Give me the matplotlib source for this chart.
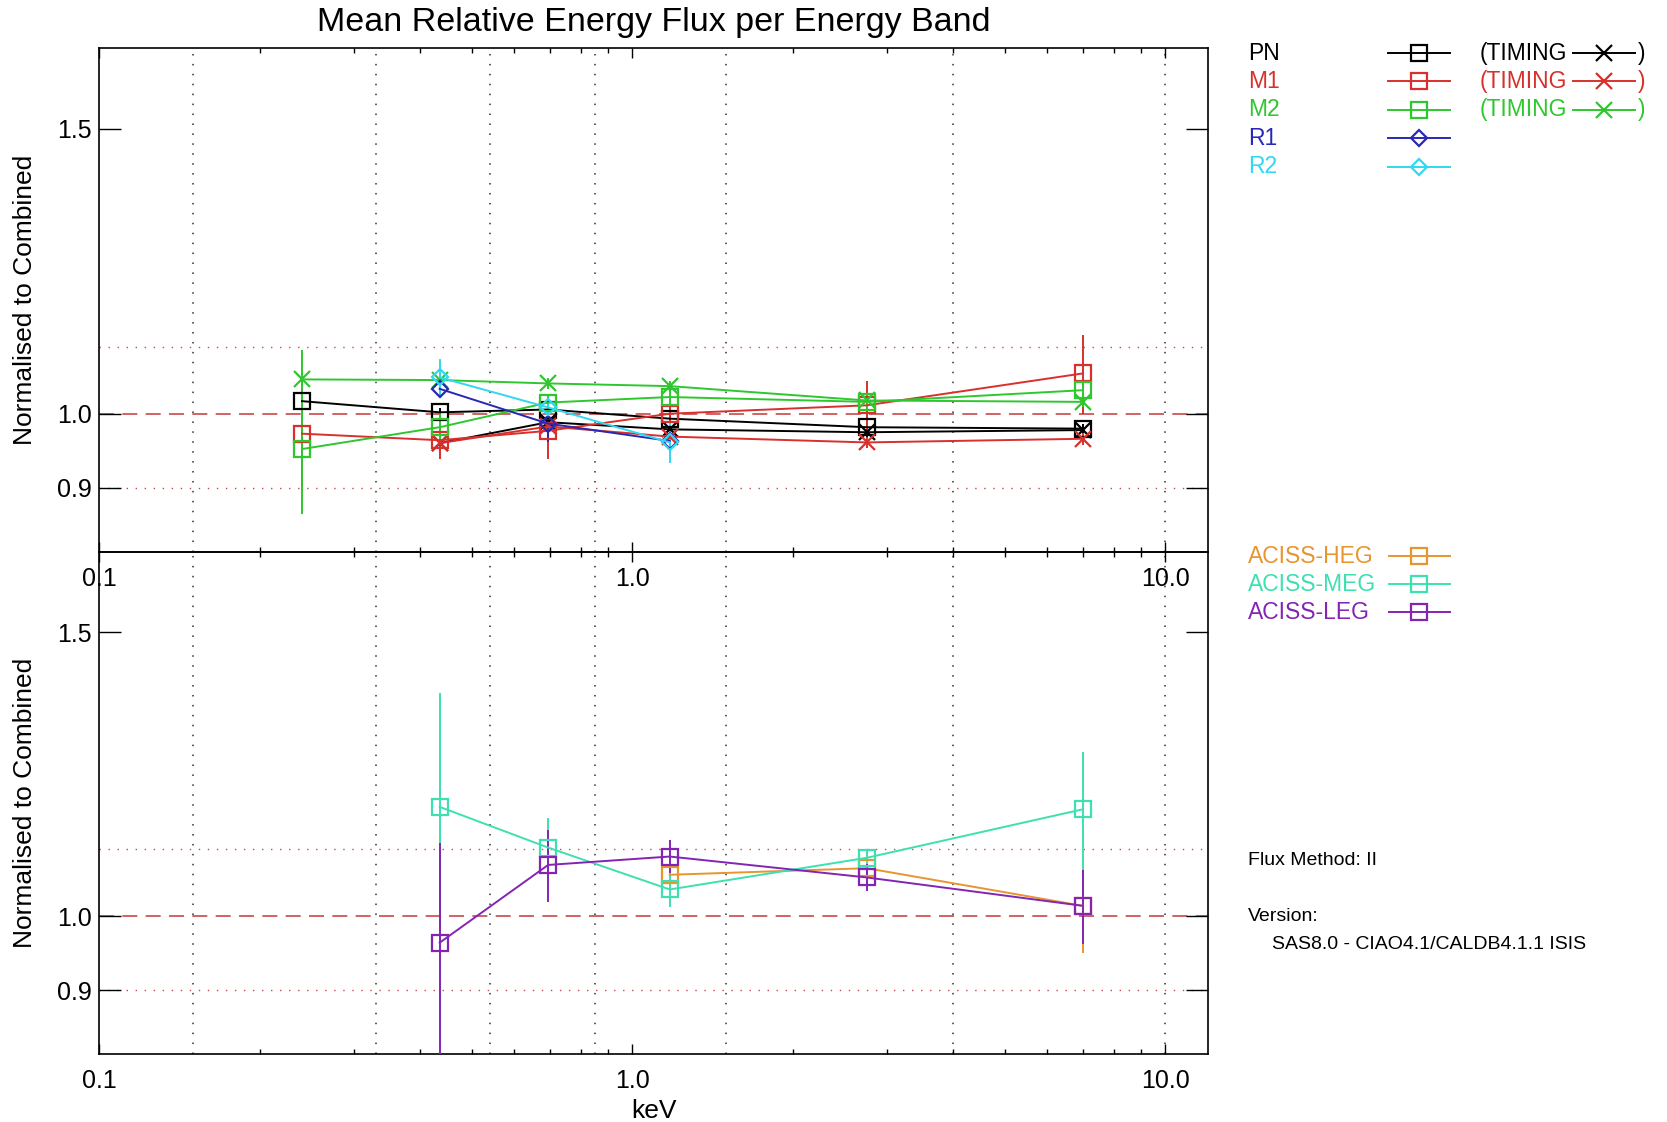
import matplotlib
matplotlib.use('Agg')
import matplotlib.pyplot as plt
from matplotlib.ticker import FixedLocator, NullFormatter, NullLocator, LogLocator

plt.rcParams['font.family'] = ['Liberation Sans', 'DejaVu Sans']

# %% data
band_edges = [0.15, 0.33, 0.54, 0.85, 1.5, 4.0, 10.0]
e_all = [0.24, 0.435, 0.695, 1.175, 2.75, 7.0]
e_timing = [0.435, 0.695, 1.175, 2.75, 7.0]
e_rgs = [0.435, 0.695, 1.175]
e_heg = [1.175, 2.75, 7.0]

pn = [1.018, 1.002, 1.006, 0.993, 0.981, 0.979]
pn_err = [0.008, 0.006, 0.006, 0.006, 0.006, 0.006]
pn_t = [0.959, 0.988, 0.978, 0.974, 0.977]
pn_t_err = [0.006, 0.006, 0.006, 0.006, 0.006]
m1 = [0.972, 0.963, 0.976, 1.000, 1.012, 1.059]
m1_err = [0.075, 0.020, 0.038, 0.010, 0.036, 0.059]
m1_t = [0.959, 0.982, 0.968, 0.960, 0.965]
m1_t_err = [0.021, 0.008, 0.008, 0.008, 0.008]
m2 = [0.951, 0.981, 1.016, 1.024, 1.017, 1.034]
m2_err = [0.084, 0.020, 0.010, 0.012, 0.012, 0.012]
m2_t = [1.050, 1.049, 1.044, 1.040, 1.019, 1.017]
m2_t_err = [0.045, 0.008, 0.008, 0.008, 0.008, 0.008]
r1 = [1.036, 0.986, 0.962]
r1_err = [0.010, 0.026, 0.010]
r2 = [1.053, 1.009, 0.960]
r2_err = [0.028, 0.010, 0.028]

heg = [1.061, 1.071, 1.015]
heg_err = [0.010, 0.010, 0.066]
meg = [1.169, 1.103, 1.039, 1.087, 1.165]
meg_err = [0.206, 0.047, 0.025, 0.012, 0.100]
leg = [0.963, 1.076, 1.089, 1.057, 1.015]
leg_err = [0.147, 0.055, 0.026, 0.020, 0.054]

# %% colours
c_pn = 'black'
c_m1 = '#d8302c'
c_m2 = '#2ec82e'
c_r1 = '#2828b4'
c_r2 = '#30d8f0'
c_heg = '#e8952e'
c_meg = '#3ee0b0'
c_leg = '#8424b4'
c_ref = '#c84848'

W, H = 1667, 1122
fig = plt.figure(figsize=(W / 100, H / 100), dpi=100)
ax_top = fig.add_axes([99.3 / W, 1 - 552 / H, 1108.4 / W, 504 / H])
ax_bot = fig.add_axes([99.3 / W, 1 - 1054 / H, 1108.4 / W, 502 / H])
ax_top.set_zorder(3)
ax_top.patch.set_alpha(0)


def setup(ax):
    ax.set_xscale('log')
    ax.set_yscale('log')
    ax.set_xlim(0.1, 12.0)
    ax.set_ylim(0.8215, 1.682)
    ax.xaxis.set_major_locator(FixedLocator([0.1, 1.0, 10.0]))
    ax.set_xticklabels(['0.1', '1.0', '10.0'])
    ax.xaxis.set_minor_locator(LogLocator(base=10, subs=range(2, 10)))
    ax.xaxis.set_minor_formatter(NullFormatter())
    ax.yaxis.set_major_locator(FixedLocator([0.9, 1.0, 1.5]))
    ax.set_yticklabels(['0.9', '1.0', '1.5'])
    ax.yaxis.set_minor_locator(NullLocator())
    ax.tick_params(axis='x', which='major', direction='in', length=7.2, width=1.0,
                   top=True, labelsize=18, pad=11)
    ax.tick_params(axis='x', which='minor', direction='in', length=3.6, width=1.0, top=True)
    ax.tick_params(axis='y', which='major', direction='in', length=15.8, width=1.0,
                   right=True, labelsize=18, pad=5.5)
    for sp in ax.spines.values():
        sp.set_linewidth(1.2)
    for e in band_edges:
        ax.axvline(e, color='#303030', lw=1.1, ls=(0, (1, 5.5)), zorder=1)
    ax.axhline(1.0, color=c_ref, lw=1.2, ls=(0, (9, 5)), zorder=1)
    ax.axhline(0.9, color=c_ref, lw=1.0, ls=(0, (1, 5.5)), zorder=1)
    ax.axhline(1.1, color=c_ref, lw=1.0, ls=(0, (1, 5.5)), zorder=1)
    ax.set_ylabel('Normalised to Combined', fontsize=19, labelpad=14)


setup(ax_top)
setup(ax_bot)
ax_bot.set_xlabel('keV', fontsize=19, labelpad=4)


def series(ax, x, y, err, color, marker, ms=11):
    ax.errorbar(x, y, yerr=err, color=color, ecolor=color, lw=1.4, elinewidth=1.4,
                marker=marker, ms=ms, mfc='none', mec=color, mew=1.6, capsize=0, zorder=4)


# %% top panel
series(ax_top, e_all, pn, pn_err, c_pn, 's')
series(ax_top, e_timing, pn_t, pn_t_err, c_pn, 'x')
series(ax_top, e_all, m1, m1_err, c_m1, 's')
series(ax_top, e_timing, m1_t, m1_t_err, c_m1, 'x')
series(ax_top, e_all, m2, m2_err, c_m2, 's')
series(ax_top, e_all, m2_t, m2_t_err, c_m2, 'x')
series(ax_top, e_rgs, r1, r1_err, c_r1, 'D', ms=8)
series(ax_top, e_rgs, r2, r2_err, c_r2, 'D', ms=8)

# %% bottom panel
series(ax_bot, e_heg, heg, heg_err, c_heg, 's')
series(ax_bot, e_all[1:], meg, meg_err, c_meg, 's')
series(ax_bot, e_all[1:], leg, leg_err, c_leg, 's')

fig.text(653.5 / W, 1 - 22 / H, 'Mean Relative Energy Flux per Energy Band',
         ha='center', va='center', fontsize=24.5)

# %% legend / annotation area, pixel coordinates
lg = fig.add_axes([0, 0, 1, 1])
lg.set_xlim(0, W)
lg.set_ylim(H, 0)
lg.axis('off')
lg.patch.set_alpha(0)

top_rows = [('PN', c_pn, 's', True), ('M1', c_m1, 's', True), ('M2', c_m2, 's', True),
            ('R1', c_r1, 'D', False), ('R2', c_r2, 'D', False)]
for i, (name, col, mk, timing) in enumerate(top_rows):
    yy = 53 + 28.4 * i
    lg.text(1248, yy, name, color=col, fontsize=16.5, va='center', ha='left')
    lg.plot([1388, 1450], [yy, yy], color=col, lw=1.4)
    lg.plot([1419], [yy], color=col, marker=mk, ms=11 if mk == 's' else 8,
            mfc='none', mec=col, mew=1.6)
    if timing:
        lg.text(1480, yy, '(TIMING', color=col, fontsize=16.5, va='center', ha='left')
        lg.plot([1573, 1635], [yy, yy], color=col, lw=1.4)
        lg.plot([1604], [yy], color=col, marker='x', ms=11, mew=1.6)
        lg.text(1638, yy, ')', color=col, fontsize=16.5, va='center', ha='left')

bot_rows = [('ACISS-HEG', c_heg), ('ACISS-MEG', c_meg), ('ACISS-LEG', c_leg)]
for i, (name, col) in enumerate(bot_rows):
    yy = 556 + 28.0 * i
    lg.text(1248, yy, name, color=col, fontsize=16.5, va='center', ha='left')
    lg.plot([1389, 1450], [yy, yy], color=col, lw=1.4)
    lg.plot([1419], [yy], color=col, marker='s', ms=11, mfc='none', mec=col, mew=1.6)

lg.text(1248, 860, 'Flux Method: II', fontsize=14, va='center', ha='left')
lg.text(1248, 916, 'Version:', fontsize=14, va='center', ha='left')
lg.text(1272, 944, 'SAS8.0 - CIAO4.1/CALDB4.1.1 ISIS', fontsize=14, va='center', ha='left')

plt.savefig('out.png', dpi=100)
